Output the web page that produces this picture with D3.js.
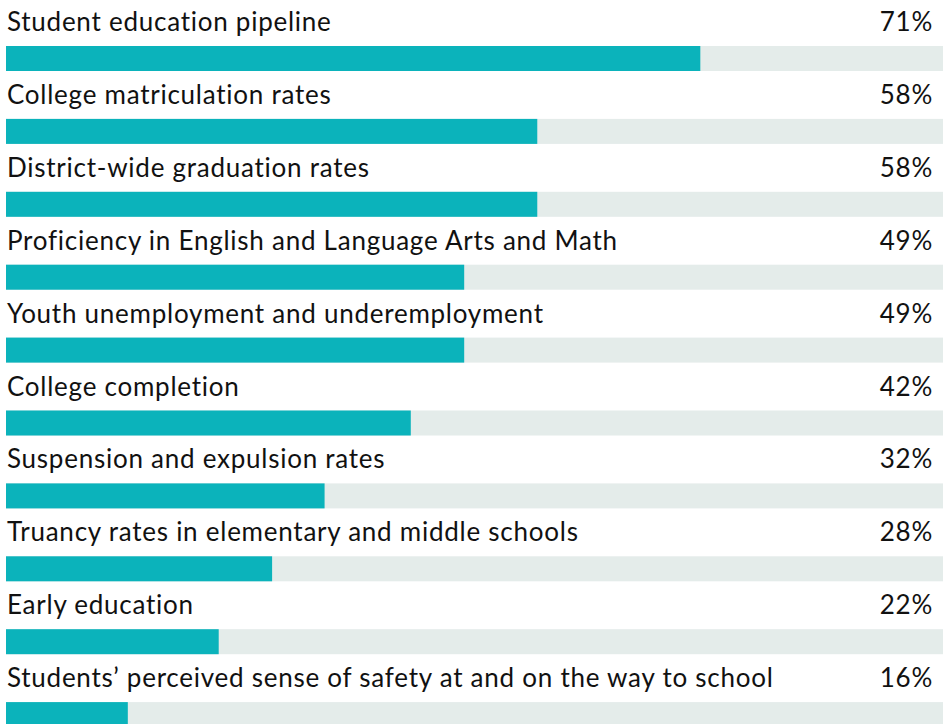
<!DOCTYPE html>
<html>
<head>
<meta charset="utf-8">
<script src="https://cdn.jsdelivr.net/npm/d3@7"></script>
<style>
  html, body { margin: 0; padding: 0; background: #fff; overflow: hidden; }
  text { font-variant-ligatures: none; }
</style>
</head>
<body>
<div id="chart"></div>
<script>
// labels and the printed percentages
var categories = [
  "Student education pipeline",
  "College matriculation rates",
  "District-wide graduation rates",
  "Proficiency in English and Language Arts and Math",
  "Youth unemployment and underemployment",
  "College completion",
  "Suspension and expulsion rates",
  "Truancy rates in elementary and middle schools",
  "Early education",
  "Students\u2019 perceived sense of safety at and on the way to school"
];
var shownPct = [71, 58, 58, 49, 49, 42, 32, 28, 22, 16];
// bar lengths as drawn in the picture (they don't follow the printed numbers exactly)
var barPct = [74.1, 56.7, 56.7, 48.9, 48.9, 43.2, 34.0, 28.4, 22.7, 13.0];

var width = 943, height = 724;
var margin = { top: 46, left: 6, right: 0 };
var rowStep = 72.9;
var barH = 25;

var svg = d3.select("#chart").append("svg")
  .attr("width", width).attr("height", height);

var x = d3.scaleLinear().domain([0, 100]).range([margin.left, width - margin.right]);
var y = d3.scaleBand()
  .domain(categories)
  .range([margin.top, margin.top + rowStep * categories.length])
  .paddingInner(0).paddingOuter(0);

var rows = svg.selectAll("g.row")
  .data(categories)
  .enter().append("g")
  .attr("class", "row")
  .attr("transform", function(d) { return "translate(0," + y(d) + ")"; });

// grey track
rows.append("rect")
  .attr("x", x(0))
  .attr("y", 0)
  .attr("width", x(100) - x(0))
  .attr("height", barH)
  .attr("fill", "#e4ecea");

// teal fill
rows.append("rect")
  .attr("x", x(0))
  .attr("y", 0)
  .attr("width", function(d, i) { return x(barPct[i]) - x(0); })
  .attr("height", barH)
  .attr("fill", "#0bb3bb");

rows.append("text")
  .attr("x", 7)
  .attr("y", -15)
  .attr("font-family", "Lato, 'Open Sans', sans-serif")
  .attr("font-size", "26px")
  .attr("letter-spacing", "0.75px")
  .attr("fill", "#111")
  .text(function(d) { return d; });

rows.append("text")
  .attr("x", 933)
  .attr("y", -15)
  .attr("text-anchor", "end")
  .attr("font-family", "Lato, 'Open Sans', sans-serif")
  .attr("font-size", "26px")
  .attr("letter-spacing", "0.75px")
  .attr("fill", "#111")
  .text(function(d, i) { return shownPct[i] + "%"; });
</script>
</body>
</html>
